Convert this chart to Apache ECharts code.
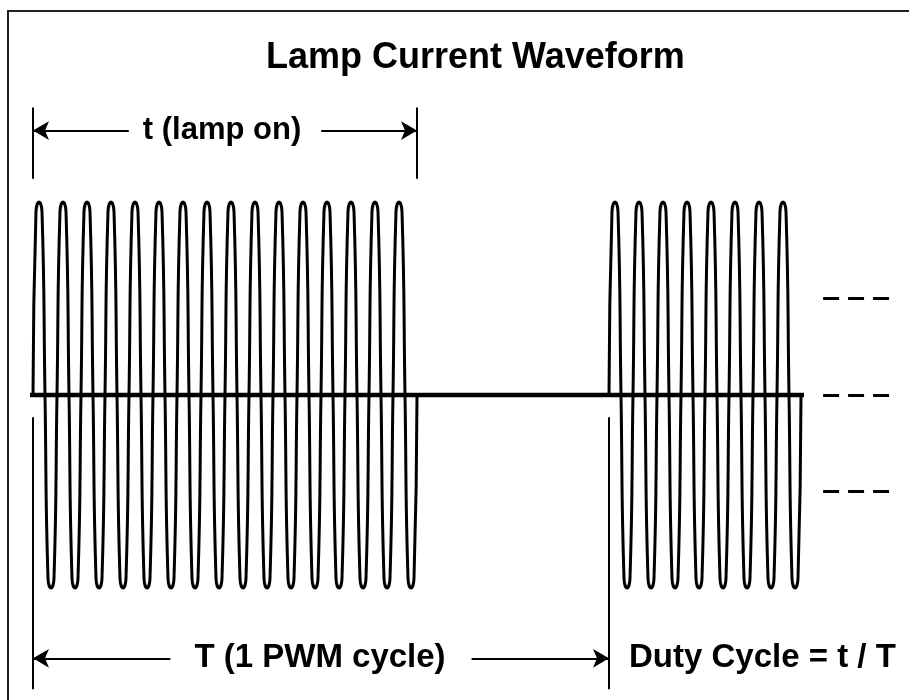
<!DOCTYPE html>
<html>
<head>
<meta charset="utf-8">
<title>Lamp Current Waveform</title>
<script src="https://cdn.jsdelivr.net/npm/echarts@6/dist/echarts.min.js"></script>
<style>
  html, body { margin: 0; padding: 0; background: #fff; }
  #chart { width: 909px; height: 700px; }
</style>
</head>
<body>
<div id="chart"></div>
<script>
// x in carrier cycles, y in units of peak current
const eighthLevels = [0, 0.95, 1, 0.95, 0, -0.95, -1, -0.95];   // level every 1/8 cycle
const burstStart = [0, 24];
const burstCycles = [16, 8];
const baselineX = [-0.125, 32.125];
const onTimeX = [0, 16];               // t
const periodX = [0, 24];               // T
const topMarkerY = [1.12, 1.49];
const topArrowY = 1.37;
const bottomMarkerY = [-0.115, -1.525];
const bottomArrowY = -1.365;
const continueX = [32.92, 35.7];
const continueY = [0.5, 0, -0.5];
const titleText = 'Lamp Current Waveform';
const onLabel = 't (lamp on)';
const periodLabel = 'T (1 PWM cycle)';
const dutyLabel = 'Duty Cycle = t / T';

const FONT = '"Liberation Sans", Arial, sans-serif';

function burstPoints(start, cycles) {
  const pts = [];
  const n = eighthLevels.length;
  for (let k = 0; k <= cycles * n; k++) {
    pts.push([start + k / n, eighthLevels[k % n]]);
  }
  return pts;
}

function arrowLabel(text, size, pad) {
  return {
    show: true,
    position: 'insideMiddle',
    formatter: text,
    color: '#000',
    fontSize: size,
    fontWeight: 'bold',
    fontFamily: FONT,
    backgroundColor: '#fff',
    padding: pad
  };
}

const marks = [];
onTimeX.forEach(x => {
  marks.push([{ coord: [x, topMarkerY[0]] }, { coord: [x, topMarkerY[1]] }]);
});
periodX.forEach(x => {
  marks.push([{ coord: [x, bottomMarkerY[0]] }, { coord: [x, bottomMarkerY[1]] }]);
});
marks.push([
  { coord: [onTimeX[0], topArrowY], symbol: 'arrow', symbolSize: [14, 16], label: arrowLabel(onLabel, 31, [8, 20, 0, 14]) },
  { coord: [onTimeX[1], topArrowY], symbol: 'arrow', symbolSize: [14, 16] }
]);
marks.push([
  { coord: [periodX[0], bottomArrowY], symbol: 'arrow', symbolSize: [14, 16], label: arrowLabel(periodLabel, 33, [4, 26, 0, 24]) },
  { coord: [periodX[1], bottomArrowY], symbol: 'arrow', symbolSize: [14, 16] }
]);
continueY.forEach(y => {
  marks.push([
    { coord: [continueX[0], y], lineStyle: { width: 3, type: [16, 9] } },
    { coord: [continueX[1], y] }
  ]);
});

const waveSeries = burstStart.map((s, i) => ({
  type: 'line',
  data: burstPoints(s, burstCycles[i]),
  smooth: true,
  showSymbol: false,
  symbol: 'none',
  clip: false,
  lineStyle: { color: '#000', width: 3 },
  silent: true
}));

const chart = echarts.init(document.getElementById('chart'));
const option = {
  animation: false,
  backgroundColor: '#fff',
  title: {
    text: titleText,
    left: 266,
    top: 40,
    padding: 0,
    textStyle: { fontSize: 36, fontWeight: 'bold', fontFamily: FONT, color: '#000' }
  },
  graphic: [{
    type: 'rect',
    shape: { x: 8, y: 11, width: 1000, height: 1000 },
    style: { fill: 'none', stroke: '#222', lineWidth: 2 },
    silent: true
  }],
  grid: { left: 21, width: 876, top: 11, height: 683 },
  xAxis: { type: 'value', min: -0.5, max: 36, show: false },
  yAxis: { type: 'value', min: -1.55, max: 1.99, show: false },
  series: waveSeries.concat([
    {
      type: 'line',
      data: baselineX.map(x => [x, 0]),
      showSymbol: false,
      symbol: 'none',
      clip: false,
      lineStyle: { color: '#000', width: 4.5 },
      silent: true
    },
    {
      type: 'scatter',
      data: [[periodX[1], bottomArrowY]],
      symbolSize: 0,
      silent: true,
      itemStyle: { opacity: 1 },
      label: {
        show: true,
        position: 'right',
        distance: 20,
        formatter: dutyLabel,
        color: '#000',
        opacity: 1,
        fontSize: 33,
        fontWeight: 'bold',
        fontFamily: FONT
      },
      markLine: {
        silent: true,
        symbol: 'none',
        precision: 4,
        lineStyle: { color: '#000', width: 2, type: 'solid' },
        label: { show: false },
        emphasis: { disabled: true },
        data: marks
      }
    }
  ])
};
chart.setOption(option);
</script>
</body>
</html>
